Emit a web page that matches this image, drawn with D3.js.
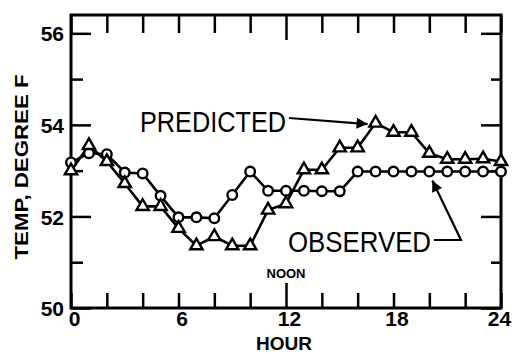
<!DOCTYPE html>
<html>
<head>
<meta charset="utf-8">
<script src="https://cdn.jsdelivr.net/npm/d3@7"></script>
<style>
  body { margin: 0; background: #fff; }
  svg { display: block; }
</style>
</head>
<body>
<div id="chart"></div>
<script>
// hourly readings, hour 0 to 24
const hours = [0, 1, 2, 3, 4, 5, 6, 7, 8, 9, 10, 11, 12, 13, 14, 15, 16, 17, 18, 19, 20, 21, 22, 23, 24];
const predicted = [53.0, 53.55, 53.2, 52.72, 52.22, 52.22, 51.74, 51.36, 51.56, 51.36, 51.36, 52.14, 52.28,
    53.02, 53.02, 53.5, 53.5, 54.04, 53.84, 53.84, 53.38, 53.25, 53.25, 53.26, 53.2];
const observed = [53.18, 53.38, 53.36, 52.96, 52.94, 52.45, 51.98, 51.98, 51.96, 52.47, 52.98, 52.56, 52.56,
    52.56, 52.55, 52.55, 52.98, 52.98, 52.98, 52.98, 52.98, 52.98, 52.98, 52.98, 52.98];
const xTicks = [0, 2, 4, 6, 8, 10, 12, 14, 16, 18, 20, 22, 24];
const xTickLabels = [0, 6, 12, 18, 24];
const yMajorTicks = [50, 52, 54, 56];
const yMinorTicks = [51, 53, 55];

const svgWidth = 514;
const svgHeight = 353;
const margin = { top: 15, right: 13, bottom: 45, left: 71 };
const width = svgWidth - margin.left - margin.right;
const height = svgHeight - margin.top - margin.bottom;

const svg = d3.select("#chart")
    .append("svg")
    .attr("width", svgWidth)
    .attr("height", svgHeight);

svg.append("defs").append("marker")
    .attr("id", "arrow")
    .attr("viewBox", "0 0 10 10")
    .attr("refX", 10)
    .attr("refY", 5)
    .attr("markerWidth", 6)
    .attr("markerHeight", 5)
    .attr("markerUnits", "strokeWidth")
    .attr("orient", "auto")
    .append("path")
    .attr("d", "M0,0L10,5L0,10z")
    .attr("fill", "#000");

const g = svg.append("g")
    .attr("transform", `translate(${margin.left},${margin.top})`);

// Scales (top of frame sits a bit above 56)
const x = d3.scaleLinear().domain([0, 24]).range([0, width]);
const y = d3.scaleLinear().domain([50, 56.4]).range([height, 0]);

const font = "'Liberation Sans', Arial, Helvetica, sans-serif";

function styleAxis(sel) {
    sel.select(".domain").remove();
    sel.selectAll(".tick line").attr("stroke", "#000").attr("stroke-width", 2.5);
    sel.selectAll("text")
        .attr("fill", "#000")
        .style("font-family", font)
        .style("font-weight", "bold")
        .style("font-size", "21px");
}

// Bottom axis
g.append("g")
    .attr("transform", `translate(0,${height})`)
    .call(d3.axisBottom(x).tickValues(xTicks).tickSizeOuter(0).tickSize(-15).tickPadding(3)
        .tickFormat(d => xTickLabels.includes(d) ? d : ""))
    .call(styleAxis)
    .call(a => a.selectAll("text").attr("dx", d => d === 24 ? -2 : 3))
    .call(a => a.selectAll(".tick line").filter(d => d === 12).attr("y2", -25));

// Top axis
g.append("g")
    .call(d3.axisTop(x).tickValues(xTicks).tickSizeOuter(0).tickSize(-18).tickFormat(""))
    .call(styleAxis)
    .call(a => a.selectAll(".tick line").filter(d => d === 12).attr("y2", 25));

// Left axis
g.append("g")
    .call(d3.axisLeft(y).tickValues(yMajorTicks).tickSizeOuter(0).tickSize(-20).tickPadding(7)
        .tickFormat(d3.format("d")))
    .call(styleAxis)
    .call(a => a.selectAll("text").attr("dy", "0.36em"));
g.append("g")
    .call(d3.axisLeft(y).tickValues(yMinorTicks).tickSizeOuter(0).tickSize(-12).tickFormat(""))
    .call(styleAxis);

// Right axis
g.append("g")
    .attr("transform", `translate(${width},0)`)
    .call(d3.axisRight(y).tickValues(yMajorTicks).tickSizeOuter(0).tickSize(-20).tickFormat(""))
    .call(styleAxis);
g.append("g")
    .attr("transform", `translate(${width},0)`)
    .call(d3.axisRight(y).tickValues(yMinorTicks).tickSizeOuter(0).tickSize(-10).tickFormat(""))
    .call(styleAxis);

// Frame
g.append("rect")
    .attr("x", 0)
    .attr("y", 0)
    .attr("width", width)
    .attr("height", height)
    .attr("fill", "none")
    .attr("stroke", "#000")
    .attr("stroke-width", 3);

// Lines
const line = d3.line().x((d, i) => x(hours[i])).y(d => y(d));

g.append("path")
    .datum(observed)
    .attr("d", line)
    .attr("fill", "none")
    .attr("stroke", "#000")
    .attr("stroke-width", 2.6);

g.append("path")
    .datum(predicted)
    .attr("d", line)
    .attr("fill", "none")
    .attr("stroke", "#000")
    .attr("stroke-width", 2.6);

// Markers
g.selectAll(".obs")
    .data(observed)
    .enter()
    .append("circle")
    .attr("class", "obs")
    .attr("cx", (d, i) => x(hours[i]))
    .attr("cy", d => y(d))
    .attr("r", 4.8)
    .attr("fill", "#fff")
    .attr("stroke", "#000")
    .attr("stroke-width", 2.4);

g.selectAll(".pred")
    .data(predicted)
    .enter()
    .append("path")
    .attr("class", "pred")
    .attr("transform", (d, i) => `translate(${x(hours[i])},${y(d)})`)
    .attr("d", d3.symbol(d3.symbolTriangle, 66))
    .attr("fill", "#fff")
    .attr("stroke", "#000")
    .attr("stroke-width", 2.4);

// Annotations
g.append("text")
    .attr("x", 140 - margin.left)
    .attr("y", 132 - margin.top)
    .attr("textLength", 146)
    .attr("lengthAdjust", "spacingAndGlyphs")
    .style("font-family", font)
    .style("font-size", "30px")
    .text("PREDICTED");

g.append("line")
    .attr("x1", 289 - margin.left)
    .attr("y1", 118 - margin.top)
    .attr("x2", x(17) - 8)
    .attr("y2", y(predicted[17]) + 1)
    .attr("stroke", "#000")
    .attr("stroke-width", 2.2)
    .attr("marker-end", "url(#arrow)");

g.append("text")
    .attr("x", 288 - margin.left)
    .attr("y", 252 - margin.top)
    .attr("textLength", 143)
    .attr("lengthAdjust", "spacingAndGlyphs")
    .style("font-family", font)
    .style("font-size", "30px")
    .text("OBSERVED");

g.append("polyline")
    .attr("points", [
        [434 - margin.left, 240 - margin.top],
        [461 - margin.left, 240 - margin.top],
        [x(20) + 3, y(observed[20]) + 9]
    ].map(p => p.join(",")).join(" "))
    .attr("fill", "none")
    .attr("stroke", "#000")
    .attr("stroke-width", 2.2)
    .attr("marker-end", "url(#arrow)");

g.append("text")
    .attr("x", x(12))
    .attr("y", 278 - margin.top)
    .attr("text-anchor", "middle")
    .style("font-family", font)
    .style("font-weight", "bold")
    .style("font-size", "13px")
    .text("NOON");

// Axis titles
svg.append("text")
    .attr("x", 284)
    .attr("y", 350)
    .attr("text-anchor", "middle")
    .style("font-family", font)
    .style("font-weight", "bold")
    .style("font-size", "19px")
    .text("HOUR");

svg.append("text")
    .attr("transform", "translate(28,167) rotate(-90)")
    .attr("text-anchor", "middle")
    .attr("textLength", 185)
    .attr("lengthAdjust", "spacingAndGlyphs")
    .style("font-family", font)
    .style("font-weight", "bold")
    .style("font-size", "18px")
    .text("TEMP, DEGREE F");
</script>
</body>
</html>
